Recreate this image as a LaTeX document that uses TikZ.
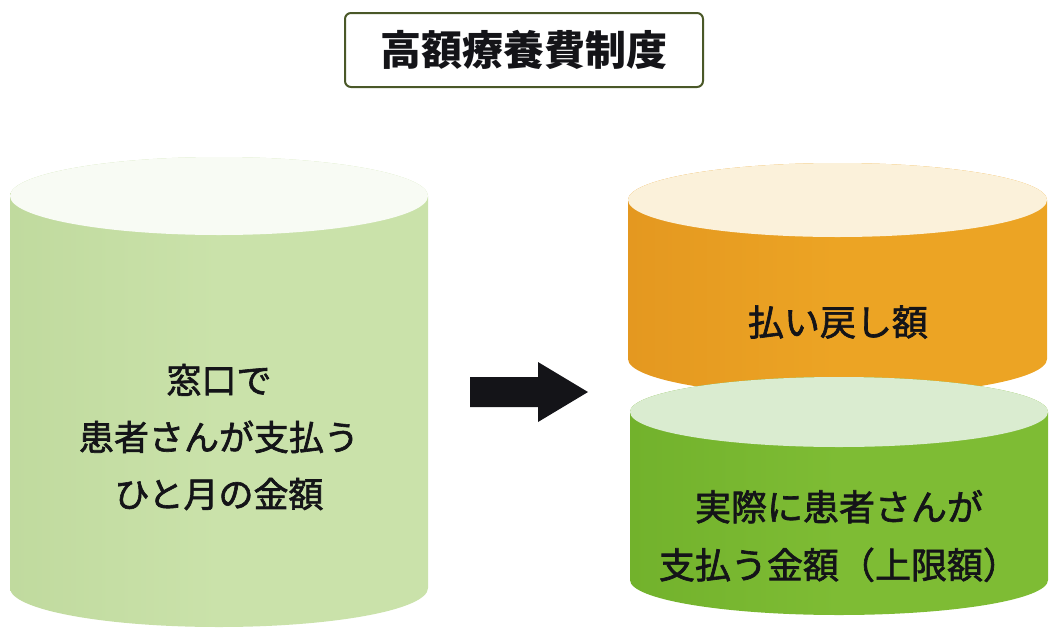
\documentclass[tikz,border=0pt]{standalone}
\usepackage{fontspec}
\newfontfamily\jp{Noto Sans CJK JP}
\newfontfamily\jpmed[FakeBold=1.8]{Noto Sans CJK JP}
\usetikzlibrary{shapes.geometric}

\definecolor{frameolive}{RGB}{74,88,40}
\definecolor{inkblack}{RGB}{20,20,24}
\definecolor{palegreen}{RGB}{202,226,170}
\definecolor{palegreenedge}{RGB}{192,218,158}
\definecolor{palegreentop}{RGB}{248,251,244}
\definecolor{orangebody}{RGB}{236,164,36}
\definecolor{orangeedge}{RGB}{228,152,32}
\definecolor{orangetop}{RGB}{251,241,218}
\definecolor{greenbody}{RGB}{126,188,52}
\definecolor{greenedge}{RGB}{114,178,44}
\definecolor{greentop}{RGB}{218,236,208}

\tikzset{
  titlebox/.style={draw=frameolive, line width=2pt, rounded corners=6pt, fill=white,
    minimum width=358pt, minimum height=74pt, inner sep=0pt,
    font=\jp\bfseries\fontsize{41}{48}\selectfont, text=inkblack},
  label/.style={align=center, text=inkblack, inner sep=0pt,
    font=\jpmed\fontsize{35}{57}\selectfont},
  blockarrow/.style={fill=inkblack, draw=none}
}

% cylinder: #1 left x, #2 right x, #3 top centre y, #4 bottom centre y, #5 y radius,
% #6 body side colour, #7 body middle colour, #8 top face colour
\newcommand{\drumshape}[8]{%
  \pgfmathsetmacro{\drx}{(#2-#1)/2}%
  \path[left color=#6, right color=#7, middle color=#7]
    (#1,#3) -- (#1,#4)
    arc[start angle=180, end angle=360, x radius=\drx pt, y radius=#5 pt]
    -- (#2,#3)
    arc[start angle=0, end angle=180, x radius=\drx pt, y radius=#5 pt]
    -- cycle;
  \path[fill=#8]
    (#1,#3) arc[start angle=180, end angle=540, x radius=\drx pt, y radius=#5 pt];
}

\begin{document}
\begin{tikzpicture}[x=1pt, y=-1pt]
  \useasboundingbox (0,0) rectangle (1053,630);

  % heading
  \node[titlebox] (title) at (524,50) {高額療養費制度};

  % monthly amount paid at the counter
  \drumshape{10}{428}{196}{588}{39}{palegreenedge}{palegreen}{palegreentop}
  \node[label] (total) at (219,437) {窓口で\\患者さんが支払う\\ひと月の金額};

  % refund part
  \drumshape{628}{1047}{200}{359}{37}{orangeedge}{orangebody}{orangetop}
  \node[label, font=\jpmed\fontsize{36}{57}\selectfont] (refund) at (838,322) {払い戻し額};

  % part actually paid (limit)
  \drumshape{630}{1048}{412}{580}{35}{greenedge}{greenbody}{greentop}
  \node[label, font=\jpmed\fontsize{36}{58}\selectfont] (limit) at (839,536)
    {実際に患者さんが\\支払う金額（上限額）};

  % block arrow between the two columns
  \coordinate (arrowtail) at (470,392);
  \coordinate (arrowtip) at (588,392);
  \path[blockarrow] (arrowtail) ++(0,-15) -- ++(68,0) -- ++(0,-15)
    -- (arrowtip) -- ++(-50,30) -- ++(0,-15) -- ++(-68,0) -- cycle;
\end{tikzpicture}
\end{document}
